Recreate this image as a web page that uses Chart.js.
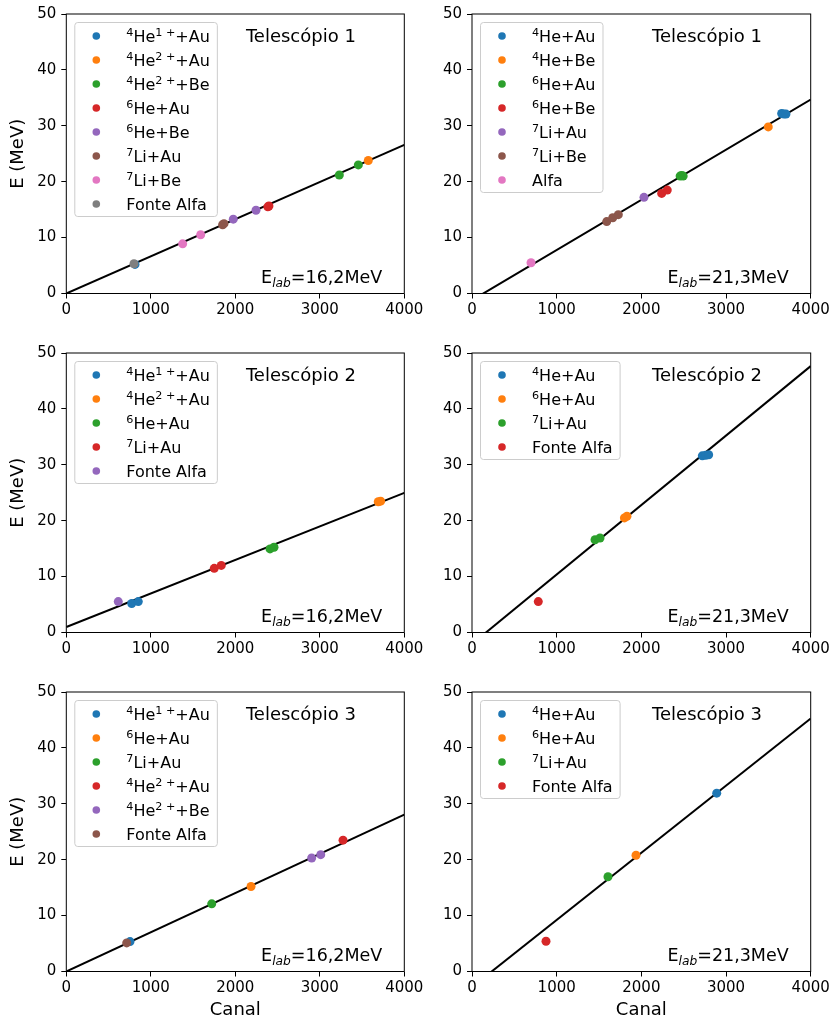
<!DOCTYPE html>
<html>
<head>
<meta charset="utf-8">
<script src="https://cdn.jsdelivr.net/npm/chart.js@4.4.1/dist/chart.umd.min.js"></script>
<style>
  html, body { margin: 0; padding: 0; background: #ffffff; }
  body { width: 834px; height: 1024px; position: relative; overflow: hidden; }
  canvas { position: absolute; }
</style>
</head>
<body>
<canvas id="p0"></canvas>
<canvas id="p1"></canvas>
<canvas id="p2"></canvas>
<canvas id="p3"></canvas>
<canvas id="p4"></canvas>
<canvas id="p5"></canvas>
<script>
// matplotlib "tab10" cycle
const COLORS = ['#1f77b4', '#ff7f0e', '#2ca02c', '#d62728', '#9467bd', '#8c564b', '#e377c2', '#7f7f7f'];

// axis ticks (shared by all panels)
const canalTicks = [0, 1000, 2000, 3000, 4000];
const energiaTicks = [0, 10, 20, 30, 40, 50];

// ---- Telescópio 1, E_lab = 16,2 MeV ----
const t1Baixa_labels = ['^{4}He^{1 +}+Au', '^{4}He^{2 +}+Au', '^{4}He^{2 +}+Be', '^{6}He+Au', '^{6}He+Be', '^{7}Li+Au', '^{7}Li+Be', 'Fonte Alfa'];
const t1Baixa_canal = [[813], [3574], [3231, 3456], [2385, 2398], [1976, 2245], [1850, 1866], [1377, 1590], [801]];
const t1Baixa_energia = [[5.2], [23.8], [21.2, 23.0], [15.5, 15.65], [13.3, 14.9], [12.3, 12.5], [8.88, 10.5], [5.33]];
const t1Baixa_ajuste = [0.00665, 0.0]; // [inclinação, intercepto]

// ---- Telescópio 1, E_lab = 21,3 MeV ----
const t1Alta_labels = ['^{4}He+Au', '^{4}He+Be', '^{6}He+Au', '^{6}He+Be', '^{7}Li+Au', '^{7}Li+Be', 'Alfa'];
const t1Alta_canal = [[3657, 3682, 3708], [3499], [2458, 2476, 2494], [2240, 2306], [2031], [1591, 1662, 1728], [697]];
const t1Alta_energia = [[32.2, 32.1, 32.1], [29.8], [21.0, 21.1, 21.0], [17.9, 18.5], [17.2], [12.86, 13.55, 14.1], [5.5]];
const t1Alta_ajuste = [0.008973, -1.19];

// ---- Telescópio 2, E_lab = 16,2 MeV ----
const t2Baixa_labels = ['^{4}He^{1 +}+Au', '^{4}He^{2 +}+Au', '^{6}He+Au', '^{7}Li+Au', 'Fonte Alfa'];
const t2Baixa_canal = [[774, 852], [3692, 3720], [2411, 2458], [1751, 1834], [615]];
const t2Baixa_energia = [[5.18, 5.53], [23.4, 23.5], [14.95, 15.25], [11.48, 12.0], [5.53]];
const t2Baixa_ajuste = [0.0060, 0.99];

// ---- Telescópio 2, E_lab = 21,3 MeV ----
const t2Alta_labels = ['^{4}He+Au', '^{6}He+Au', '^{7}Li+Au', 'Fonte Alfa'];
const t2Alta_canal = [[2720, 2760, 2795], [1800, 1830], [1453, 1512], [783]];
const t2Alta_energia = [[31.6, 31.7, 31.8], [20.5, 20.8], [16.6, 16.9], [5.53]];
const t2Alta_ajuste = [0.012425, -2.05];

// ---- Telescópio 3, E_lab = 16,2 MeV ----
const t3Baixa_labels = ['^{4}He^{1 +}+Au', '^{6}He+Au', '^{7}Li+Au', '^{4}He^{2 +}+Au', '^{4}He^{2 +}+Be', 'Fonte Alfa'];
const t3Baixa_canal = [[754], [2186], [1721], [3275], [2904, 3011], [715]];
const t3Baixa_energia = [[5.35], [15.2], [12.1], [23.5], [20.3, 20.9], [5.12]];
const t3Baixa_ajuste = [0.00702, 0.0];

// ---- Telescópio 3, E_lab = 21,3 MeV ----
const t3Alta_labels = ['^{4}He+Au', '^{6}He+Au', '^{7}Li+Au', 'Fonte Alfa'];
const t3Alta_canal = [[2890], [1937], [1606], [874]];
const t3Alta_energia = [[31.9], [20.8], [16.96], [5.41]];
const t3Alta_ajuste = [0.01201, -2.79];

const panels = [
  { id: 'p0', row: 0, col: 0, title: 'Telescópio 1', beam: 'E_{lab}=16,2MeV', labels: t1Baixa_labels, canal: t1Baixa_canal, energia: t1Baixa_energia, ajuste: t1Baixa_ajuste },
  { id: 'p1', row: 0, col: 1, title: 'Telescópio 1', beam: 'E_{lab}=21,3MeV', labels: t1Alta_labels, canal: t1Alta_canal, energia: t1Alta_energia, ajuste: t1Alta_ajuste },
  { id: 'p2', row: 1, col: 0, title: 'Telescópio 2', beam: 'E_{lab}=16,2MeV', labels: t2Baixa_labels, canal: t2Baixa_canal, energia: t2Baixa_energia, ajuste: t2Baixa_ajuste },
  { id: 'p3', row: 1, col: 1, title: 'Telescópio 2', beam: 'E_{lab}=21,3MeV', labels: t2Alta_labels, canal: t2Alta_canal, energia: t2Alta_energia, ajuste: t2Alta_ajuste },
  { id: 'p4', row: 2, col: 0, title: 'Telescópio 3', beam: 'E_{lab}=16,2MeV', labels: t3Baixa_labels, canal: t3Baixa_canal, energia: t3Baixa_energia, ajuste: t3Baixa_ajuste },
  { id: 'p5', row: 2, col: 1, title: 'Telescópio 3', beam: 'E_{lab}=21,3MeV', labels: t3Alta_labels, canal: t3Alta_canal, energia: t3Alta_energia, ajuste: t3Alta_ajuste },
];

// page grid
const FONT = '"DejaVu Sans", "Liberation Sans", sans-serif';
const colGeom = [
  { left: 0, width: 440, axisW: 66.3, padRight: 35.7 },
  { left: 417, width: 417, axisW: 55, padRight: 23.3 },
];
const rowGeom = [
  { top: 0, height: 339 },
  { top: 339, height: 339 },
  { top: 678, height: 346 },
];
const PLOT_TOP = 11;
const PLOT_H = 282.5;

// --- small mathtext-like renderer: ^{..} superscript, _{..} italic subscript ---
function parseRich(str) {
  const segs = [];
  const re = /([\^_])\{([^}]*)\}|([^\^_]+)/g;
  let m;
  while ((m = re.exec(str)) !== null) {
    if (m[1] === '^') segs.push({ t: m[2], k: 'sup' });
    else if (m[1] === '_') segs.push({ t: m[2], k: 'sub' });
    else segs.push({ t: m[3], k: 'n' });
  }
  return segs;
}
function segFont(k, size) {
  if (k === 'n') return size + 'px ' + FONT;
  const s = (size * 0.7).toFixed(2);
  return (k === 'sub' ? 'italic ' : '') + s + 'px ' + FONT;
}
function richWidth(ctx, str, size) {
  let w = 0;
  for (const s of parseRich(str)) { ctx.font = segFont(s.k, size); w += ctx.measureText(s.t).width; }
  return w;
}
function drawRich(ctx, str, x, y, size, align) {
  let cx = x;
  if (align === 'right') cx = x - richWidth(ctx, str, size);
  else if (align === 'center') cx = x - richWidth(ctx, str, size) / 2;
  ctx.textAlign = 'left';
  ctx.textBaseline = 'alphabetic';
  for (const s of parseRich(str)) {
    ctx.font = segFont(s.k, size);
    let dy = 0;
    if (s.k === 'sup') dy = -0.36 * size;
    if (s.k === 'sub') dy = 0.2 * size;
    ctx.fillText(s.t, cx, y + dy);
    cx += ctx.measureText(s.t).width;
  }
}

// frame, annotations and legend drawn over the plotted data
const decorPlugin = {
  id: 'decor',
  afterDatasetsDraw(chart) {
    const ctx = chart.ctx;
    const a = chart.chartArea;
    const p = chart.options.plugins.decor;
    ctx.save();
    ctx.fillStyle = '#000';

    // spines
    ctx.strokeStyle = '#000';
    ctx.lineWidth = 1;
    ctx.strokeRect(a.left, a.top, a.right - a.left, a.bottom - a.top);

    const w = a.right - a.left;
    // telescope label
    ctx.font = '18px ' + FONT;
    ctx.textAlign = 'center';
    ctx.textBaseline = 'alphabetic';
    ctx.fillText(p.title, a.left + 0.694 * w, a.top + 28.3);
    // beam energy
    drawRich(ctx, p.beam, a.right - 22, a.bottom - 10.5, 17.5, 'right');

    // legend
    const labels = p.labels;
    const fs = 16;
    let maxW = 0;
    for (const l of labels) maxW = Math.max(maxW, richWidth(ctx, l, fs));
    const bx = a.left + 8, by = a.top + 8;
    const bw = 52 + maxW + 7, bh = labels.length * 24 + 2;
    ctx.beginPath();
    ctx.roundRect(bx + 0.5, by + 0.5, bw, bh, 3);
    ctx.fillStyle = 'rgba(255,255,255,0.8)';
    ctx.fill();
    ctx.strokeStyle = '#cccccc';
    ctx.lineWidth = 1;
    ctx.stroke();
    labels.forEach((l, i) => {
      const cy = by + 14 + i * 24;
      ctx.beginPath();
      ctx.arc(bx + 22, cy, 3.8, 0, Math.PI * 2);
      ctx.fillStyle = COLORS[i];
      ctx.fill();
      ctx.fillStyle = '#000';
      drawRich(ctx, l, bx + 52, cy + 5.8, fs, 'left');
    });
    ctx.restore();
  }
};

for (const pn of panels) {
  const cg = colGeom[pn.col], rg = rowGeom[pn.row];
  const cv = document.getElementById(pn.id);
  cv.width = cg.width; cv.height = rg.height;
  cv.style.left = cg.left + 'px'; cv.style.top = rg.top + 'px';
  cv.style.width = cg.width + 'px'; cv.style.height = rg.height + 'px';

  const n = pn.labels.length;
  const datasets = pn.labels.map((lab, i) => ({
    type: 'scatter',
    label: lab,
    data: pn.canal[i].map((c, j) => ({ x: c, y: pn.energia[i][j] })),
    backgroundColor: COLORS[i],
    borderColor: COLORS[i],
    pointRadius: 4.5,
    pointBorderWidth: 0,
    order: n - i,
  }));
  const [a, b] = pn.ajuste;
  datasets.push({
    type: 'line',
    label: 'ajuste',
    data: [canalTicks[0], canalTicks[canalTicks.length - 1]].map(x => ({ x: x, y: a * x + b })),
    borderColor: '#000',
    borderWidth: 2,
    pointRadius: 0,
    fill: false,
    order: 100,
  });

  const xAxisH = rg.height - PLOT_TOP - PLOT_H;

  new Chart(cv, {
    type: 'scatter',
    data: { datasets },
    options: {
      responsive: false,
      animation: false,
      events: [],
      devicePixelRatio: 1,
      layout: { autoPadding: false, padding: { left: 0, top: PLOT_TOP, right: cg.padRight, bottom: 0 } },
      plugins: {
        legend: { display: false },
        tooltip: { enabled: false },
        decor: { title: pn.title, beam: pn.beam, labels: pn.labels },
      },
      scales: {
        x: {
          type: 'linear',
          min: canalTicks[0], max: canalTicks[canalTicks.length - 1],
          afterBuildTicks: s => { s.ticks = canalTicks.map(v => ({ value: v })); },
          afterFit: s => { s.height = xAxisH; },
          grid: { drawOnChartArea: false, drawTicks: true, tickLength: 5, color: '#000', lineWidth: 1 },
          border: { display: false },
          ticks: { color: '#000', font: { family: FONT, size: 15 }, padding: 3, maxRotation: 0, autoSkip: false, callback: v => String(v) },
          title: { display: pn.row === 2, text: 'Canal', color: '#000', font: { family: FONT, size: 18 }, padding: { top: 0, bottom: 3 } },
        },
        y: {
          type: 'linear',
          min: energiaTicks[0], max: energiaTicks[energiaTicks.length - 1],
          afterBuildTicks: s => { s.ticks = energiaTicks.map(v => ({ value: v })); },
          afterFit: s => { s.width = cg.axisW; },
          grid: { drawOnChartArea: false, drawTicks: true, tickLength: 5, color: '#000', lineWidth: 1 },
          border: { display: false },
          ticks: { color: '#000', font: { family: FONT, size: 15 }, padding: 5, autoSkip: false, callback: v => String(v) },
          title: { display: pn.col === 0, text: 'E (MeV)', color: '#000', font: { family: FONT, size: 18 }, padding: { top: 8, bottom: 0 } },
        },
      },
    },
    plugins: [decorPlugin],
  });
}
</script>
</body>
</html>
